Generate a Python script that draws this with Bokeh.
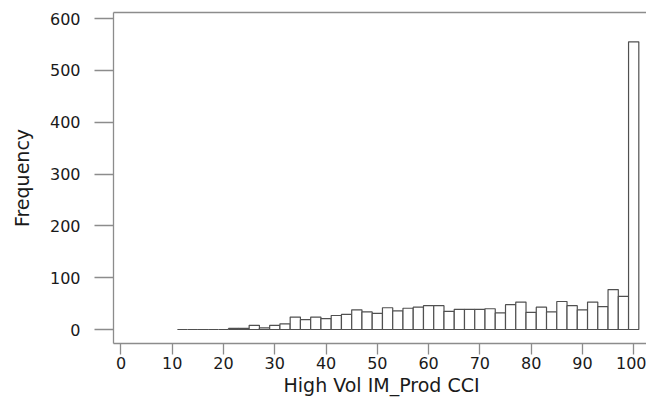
from bokeh.plotting import figure
from bokeh.models import Range1d, FixedTicker, LinearAxis, Title
from bokeh.embed import file_html
from bokeh.resources import INLINE

# Histogram bins (left edges, width 2) and frequencies
bin_left = [11, 13, 15, 17, 19, 21, 23, 25, 27, 29, 31, 33, 35, 37, 39,
            41, 43, 45, 47, 49, 51, 53, 55, 57, 59, 61, 63, 65, 67, 69,
            71, 73, 75, 77, 79, 81, 83, 85, 87, 89, 91, 93, 95, 97, 99]
bin_width = 2
counts = [0, 0, 0, 0, 0, 2, 2, 8, 3, 8, 11, 24, 19, 24, 21,
          27, 29, 38, 34, 31, 42, 36, 41, 43, 46, 46, 35, 39, 39, 39,
          40, 32, 48, 53, 33, 43, 34, 54, 46, 38, 53, 44, 77, 64, 555]
x_ticks = [0, 10, 20, 30, 40, 50, 60, 70, 80, 90, 100]
y_ticks = [0, 100, 200, 300, 400, 500, 600]
x_title = "High Vol IM_Prod CCI"
y_title = "Frequency"

FONT = "DejaVu Sans"
AXIS_GRAY = "#8c8c8c"
TEXT = "#1a1a1a"

p = figure(width=646, height=409, output_backend="svg", toolbar_location=None,
           x_range=Range1d(-1.46, 102.5), y_range=Range1d(-27, 611.6),
           min_border_left=113, min_border_right=0, min_border_top=12,
           min_border_bottom=66, x_axis_location=None, y_axis_location=None)
p.outline_line_color = None
p.xgrid.visible = False
p.ygrid.visible = False
p.background_fill_color = "white"
p.border_fill_color = "white"

right_edges = [b + bin_width for b in bin_left]
p.quad(left=bin_left, right=right_edges, bottom=0, top=counts,
       fill_color="white", line_color="#505050", line_width=1.2)

def style(ax):
    ax.axis_line_color = AXIS_GRAY
    ax.axis_line_width = 1.3
    ax.major_tick_line_color = AXIS_GRAY
    ax.major_tick_line_width = 1.3
    ax.minor_tick_line_color = None
    ax.major_tick_in = 0
    ax.major_label_text_font = FONT
    ax.major_label_text_font_size = "16px"
    ax.major_label_text_color = TEXT
    ax.axis_label_text_font = FONT
    ax.axis_label_text_font_size = "19px"
    ax.axis_label_text_font_style = "normal"
    ax.axis_label_text_color = TEXT

xaxis = LinearAxis(ticker=FixedTicker(ticks=x_ticks))
style(xaxis)
xaxis.major_tick_out = 11
xaxis.major_label_standoff = 2
p.add_layout(xaxis, "below")

yaxis = LinearAxis(ticker=FixedTicker(ticks=y_ticks), axis_label=y_title)
style(yaxis)
yaxis.major_tick_out = 19
yaxis.major_label_standoff = 14
yaxis.major_label_orientation = "horizontal"
yaxis.axis_label_standoff = 14
p.add_layout(yaxis, "left")

top = LinearAxis(ticker=FixedTicker(ticks=[]))
top.axis_line_color = AXIS_GRAY
top.axis_line_width = 1.3
top.major_tick_line_color = None
top.minor_tick_line_color = None
top.major_tick_out = 0
top.major_tick_in = 0
top.major_label_standoff = 0
top.major_label_text_font_size = "0px"
p.add_layout(top, "above")

title = Title(text=x_title, align="left", offset=170, standoff=0,
              text_font=FONT, text_font_size="19px", text_font_style="normal",
              text_color=TEXT)
p.add_layout(title, "below")

open("out.html", "w").write(file_html(p, INLINE))
